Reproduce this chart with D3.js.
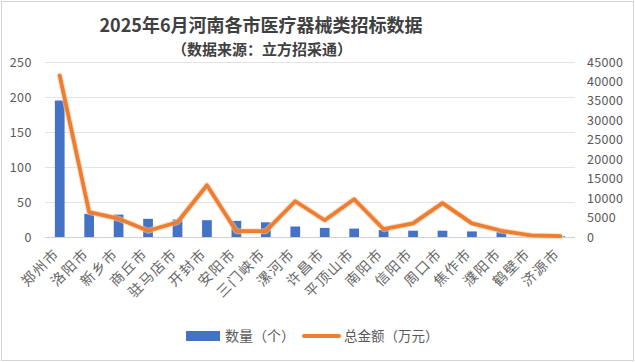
<!DOCTYPE html>
<html>
<head>
<meta charset="utf-8">
<script src="https://cdn.jsdelivr.net/npm/d3@7"></script>
<style>
  body { margin: 0; background: #fff; }
  text { font-family: "Noto Sans CJK SC", "Noto Sans", sans-serif; }
</style>
</head>
<body>
<div id="chart"></div>
<script>
// data
var cities = ["郑州市", "洛阳市", "新乡市", "商丘市", "驻马店市", "开封市", "安阳市", "三门峡市", "漯河市",
  "许昌市", "平顶山市", "南阳市", "信阳市", "周口市", "焦作市", "濮阳市", "鹤壁市", "济源市"]
var counts = [195, 33, 32, 26, 25, 24, 23, 21, 15, 13, 12, 10, 9, 9, 8, 7, 1, 1]
var amounts = [41500, 6400, 4700, 1600, 3800, 13300, 1500, 1500, 9200, 4300, 9700, 2000, 3500, 8700, 3500, 1600, 400, 200]
var leftTicks = [0, 50, 100, 150, 200, 250]
var rightTicks = [0, 5000, 10000, 15000, 20000, 25000, 30000, 35000, 40000, 45000]
var seriesNames = ["数量（个）", "总金额（万元）"]
var titleText = "2025年6月河南各市医疗器械类招标数据"
var subtitleText = "（数据来源：立方招采通）"

var width = 635, height = 362
var margin = { top: 62, right: 60, bottom: 125, left: 45 }
var blue = "#4472C4", orange = "#ED7D31"

var svg = d3.select("#chart").append("svg")
  .attr("width", width)
  .attr("height", height)

// outer frame
svg.append("rect")
  .attr("x", 1.5).attr("y", 1.5)
  .attr("width", 632).attr("height", 359)
  .attr("fill", "#fff")
  .attr("stroke", "#d4d4d4")

var x = d3.scaleBand()
  .domain(cities)
  .range([margin.left, width - margin.right])
  .paddingInner(0.67)
  .paddingOuter(0.335)

var band = d3.scaleBand().domain(cities).range([margin.left, width - margin.right])

var y = d3.scaleLinear().domain([0, 250]).range([height - margin.bottom, margin.top])
var y2 = d3.scaleLinear().domain([0, 45000]).range([height - margin.bottom, margin.top])

// gridlines
svg.append("g")
  .selectAll("line")
  .data(leftTicks)
  .enter().append("line")
  .attr("x1", margin.left)
  .attr("x2", width - margin.right)
  .attr("y1", function (d) { return Math.round(y(d)) + 0.5 })
  .attr("y2", function (d) { return Math.round(y(d)) + 0.5 })
  .attr("stroke", function (d) { return d == 0 ? "#d0d0d0" : "#e3e3e3" })

// left axis
var axL = svg.append("g")
  .attr("transform", "translate(" + (margin.left - 10) + ",0)")
  .call(d3.axisLeft(y).tickValues(leftTicks).tickSize(0))
axL.select(".domain").remove()
axL.selectAll("text").attr("fill", "#595959").style("font-size", "12.5px").style("letter-spacing", "0.5px")

// right axis
var axR = svg.append("g")
  .attr("transform", "translate(" + (width - margin.right + 9) + ",0)")
  .call(d3.axisRight(y2).tickValues(rightTicks).tickSize(0).tickFormat(d3.format("d")))
axR.select(".domain").remove()
axR.selectAll("text").attr("fill", "#595959").style("font-size", "12.5px").style("letter-spacing", "0.3px")

// bars
svg.selectAll(".bar")
  .data(cities)
  .enter().append("rect")
  .attr("class", "bar")
  .attr("x", function (d) { return x(d) })
  .attr("width", x.bandwidth())
  .attr("y", function (d, i) { return y(counts[i]) })
  .attr("height", function (d, i) { return y(0) - y(counts[i]) })
  .attr("fill", blue)

// line
var line = d3.line()
  .x(function (d, i) { return band(cities[i]) + band.bandwidth() / 2 })
  .y(function (d) { return y2(d) })

svg.append("path")
  .datum(amounts)
  .attr("d", line)
  .attr("fill", "none")
  .attr("stroke", "#f6c9a6")
  .attr("stroke-width", 6)
  .attr("stroke-linejoin", "round")
  .attr("stroke-linecap", "round")
  .attr("opacity", 0.6)

svg.append("path")
  .datum(amounts)
  .attr("d", line)
  .attr("fill", "none")
  .attr("stroke", orange)
  .attr("stroke-width", 3.8)
  .attr("stroke-linejoin", "round")
  .attr("stroke-linecap", "round")

// x labels, rotated
svg.append("g")
  .selectAll("text")
  .data(cities)
  .enter().append("text")
  .attr("transform", function (d) {
    return "translate(" + (band(d) + band.bandwidth() / 2 - 3) + "," + 251 + ") rotate(-45)"
  })
  .attr("text-anchor", "end")
  .attr("dy", "0.35em")
  .attr("fill", "#666")
  .style("font-size", "14px")
  .style("letter-spacing", "1.5px")
  .text(function (d) { return d })

// title
svg.append("text")
  .attr("x", 261).attr("y", 32)
  .attr("text-anchor", "middle")
  .attr("fill", "#404040")
  .style("font-size", "18px")
  .style("font-weight", "bold")
  .text(titleText)

svg.append("text")
  .attr("x", 262).attr("y", 55)
  .attr("text-anchor", "middle")
  .attr("fill", "#404040")
  .style("font-size", "15px")
  .style("font-weight", "bold")
  .text(subtitleText)

// legend
var lg = svg.append("g").attr("transform", "translate(0,336)")
lg.append("rect")
  .attr("x", 186).attr("y", -5)
  .attr("width", 34).attr("height", 10)
  .attr("fill", blue)
lg.append("text")
  .attr("x", 225).attr("y", 0).attr("dy", "0.35em")
  .attr("fill", "#595959")
  .style("font-size", "14px")
  .text(seriesNames[0])
lg.append("line")
  .attr("x1", 304).attr("x2", 339)
  .attr("y1", 0).attr("y2", 0)
  .attr("stroke", orange)
  .attr("stroke-width", 4)
  .attr("stroke-linecap", "round")
lg.append("text")
  .attr("x", 344).attr("y", 0).attr("dy", "0.35em")
  .attr("fill", "#595959")
  .style("font-size", "13.5px")
  .text(seriesNames[1])
</script>
</body>
</html>
